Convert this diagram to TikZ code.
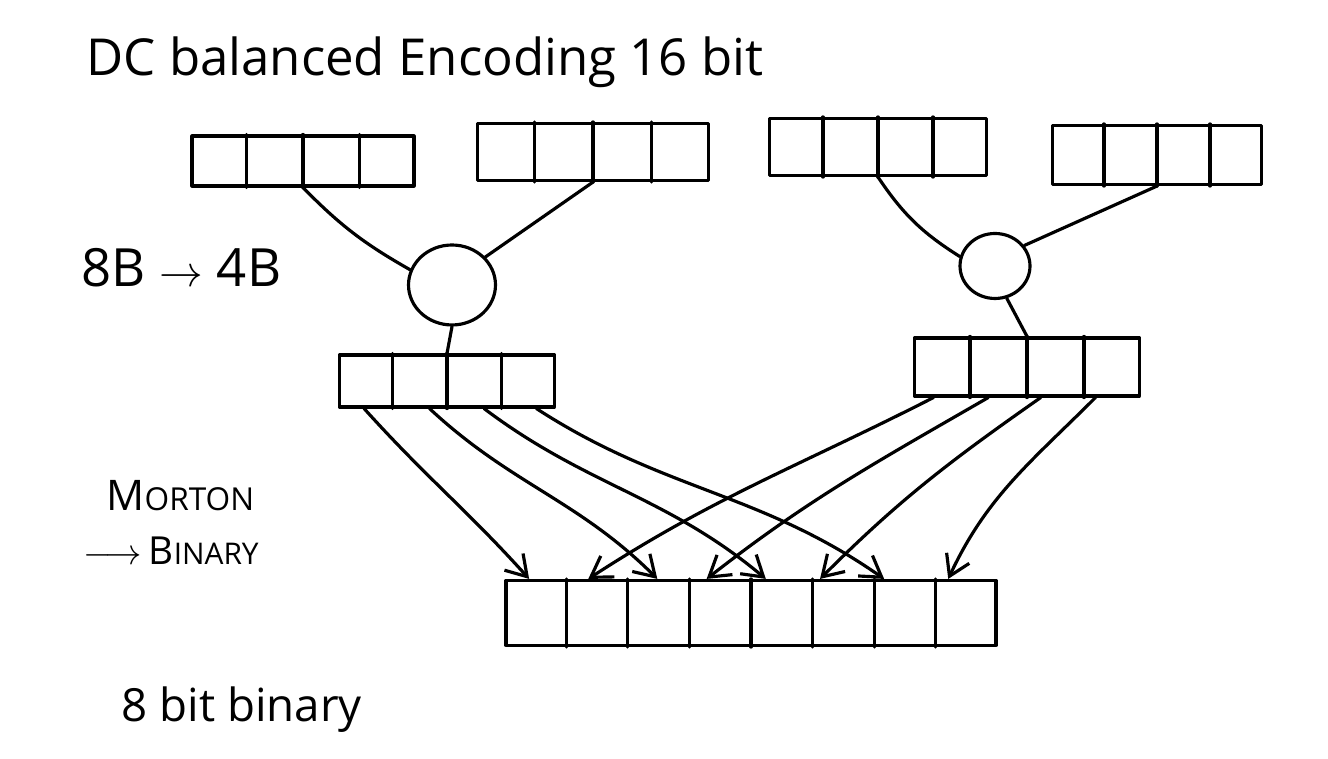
\documentclass[tikz,border=0pt]{standalone}
\usepackage{fontspec}
\setmainfont{Open Sans}
\usetikzlibrary{positioning,calc,shapes.geometric,arrows.meta}

\tikzset{
  word/.style={inner sep=0pt, anchor=west},
  reg/.style={draw, inner sep=0pt},
  enc/.style={draw, ellipse, inner sep=0pt},
  wire/.style={-{Straight Barb[length=4mm,width=5mm]}},
}

\begin{document}
\begin{tikzpicture}[x=0.02cm, y=0.02cm, line width=1.8pt, line cap=round, line join=round]
\useasboundingbox (0,0) rectangle (1328,759);

% ======================================
% LABELS
% ======================================
\node[word] (title) at (85,697) {\fontsize{29}{31}\selectfont DC balanced Encoding 16 bit};
\node[word] (rate) at (80,491) {\fontsize{30}{32}\selectfont 8B $\rightarrow$ 4B};
\node[word] (mort) at (105,263) {\fontsize{24}{26}\selectfont M\fontsize{18}{20}\selectfont ORTON};
\node[word] (tobin) at (82,208) {\fontsize{22}{24}\selectfont $\longrightarrow$\,B\fontsize{17}{19}\selectfont INARY};
\node[word] (res) at (120,49) {\fontsize{26}{28}\selectfont 8 bit binary};

% ======================================
% INPUT: FOUR 4-BIT GROUPS
% ======================================
\node[reg, minimum width=4.44cm, minimum height=1cm] (ba) at (303,598) {};
\node[reg, minimum width=4.62cm, minimum height=1.14cm] (bb) at (593,607) {};
\node[reg, minimum width=4.34cm, minimum height=1.14cm] (bc) at (878,612) {};
\node[reg, minimum width=4.18cm, minimum height=1.18cm] (bd) at (1157,604) {};

% ======================================
% 8B -> 4B ENCODERS
% ======================================
\node[enc, minimum width=1.74cm, minimum height=1.6cm] (el) at (452,474) {};
\node[enc, minimum width=1.4cm, minimum height=1.3cm] (er) at (995,493) {};

\draw (ba.south) to[bend right=8] (el.160);
\draw (bb.south) -- (el.40);
\draw (bc.south) to[bend right=12] (er.165);
\draw (bd.south) -- (er.35);

% ======================================
% 4-BIT RESULTS
% ======================================
\node[reg, minimum width=4.3cm, minimum height=1.04cm] (nl) at (447,378) {};
\node[reg, minimum width=4.5cm, minimum height=1.16cm] (nr) at (1027,392) {};

\draw (el.south) -- (nl.north);
\draw (er.-70) -- (nr.north);

% ======================================
% OUTPUT: 8-BIT BINARY
% ======================================
\node[reg, minimum width=9.8cm, minimum height=1.3cm] (bin) at (751,146) {};

% cell walls
\foreach \r in {ba,bb,bc,bd,nl,nr}
  \foreach \k in {1,2,3}
    \draw ($(\r.north west)!\k/4!(\r.north east)$) -- ($(\r.south west)!\k/4!(\r.south east)$);
\foreach \k in {1,...,7}
  \draw ($(bin.north west)!\k/8!(bin.north east)$) -- ($(bin.south west)!\k/8!(bin.south east)$);

% morton interleave: left half -> odd cells, right half -> even cells
\foreach \s/\t/\o/\i in {0.12/0.05/-48/132, 0.42/0.31/-43/135, 0.67/0.53/-37/140, 0.91/0.77/-33/145}
  \draw[wire] ($(nl.south west)!\s!(nl.south east)$) to[out=\o, in=\i] ($(bin.north west)!\t!(bin.north east)$);
\foreach \s/\t/\o/\i in {0.09/0.17/207/33, 0.33/0.41/210/38, 0.56/0.64/215/45, 0.80/0.90/225/65}
  \draw[wire] ($(nr.south west)!\s!(nr.south east)$) to[out=\o, in=\i] ($(bin.north west)!\t!(bin.north east)$);

\end{tikzpicture}
\end{document}
